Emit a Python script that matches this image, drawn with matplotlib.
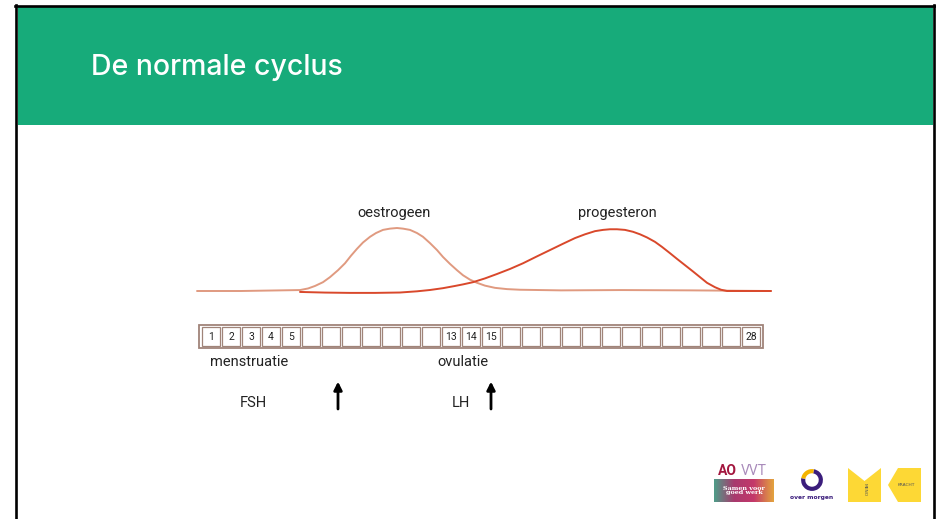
"""Dia 'De normale cyclus': hormooncurves boven een cyclusbalk van 28 dagen."""

import matplotlib

matplotlib.use("Agg")
import matplotlib.pyplot as plt  # noqa: E402
import numpy as np  # noqa: E402
from matplotlib.patches import Polygon, Rectangle, Wedge  # noqa: E402
from matplotlib.lines import Line2D  # noqa: E402

# --- data (dag op x, relatief niveau op y) ---
oestrogeen_dag = [-0.2, 2.0, 4.95, 5.35, 5.7, 6.1, 6.45, 6.85, 7.2, 7.5, 7.8, 8.1, 8.45,
                  8.75, 9.1, 9.45, 9.8, 10.1, 10.45, 10.8, 11.1, 11.45, 11.8, 12.1,
                  12.45, 12.8, 13.1, 13.45, 13.8, 14.2, 14.7, 15.3, 15.95, 18.0, 21.0,
                  24.5, 28.5]
oestrogeen_niv = [0, 0, 1.5, 4, 8, 14, 22, 33, 44, 56, 67, 77, 86,
                  92, 97, 99, 100, 99, 97, 92, 86, 76, 65, 54,
                  43, 33, 25, 18, 13, 8.5, 5, 3, 2, 1, 1.5,
                  1, 0]
progesteron_dag = [4.95, 6.2, 7.45, 8.7, 9.95, 10.8, 11.45, 12.1, 12.7, 13.1, 13.6, 14.2,
                   14.8, 15.45, 16.1, 16.8, 17.45, 18.1, 18.7, 19.2, 19.7, 20.1, 20.45,
                   20.8, 21.2, 21.6, 21.95, 22.3, 22.7, 23.05, 23.45, 23.8, 24.2, 24.6,
                   24.95, 25.3, 25.7, 26.0, 26.3, 27.2, 28.5]
progesteron_niv = [-1.5, -2.5, -3, -3, -2.4, -0.5, 1.6, 4.5, 8, 10.5, 14, 20,
                   27, 35, 44, 55, 65, 75, 84, 90, 95, 97, 98,
                   98, 97, 94, 90, 85, 78, 70, 60, 51, 41, 31,
                   22, 13, 6, 2, 0, 0, 0]
n_dagen = 28
cel_labels = {1: "1", 2: "2", 3: "3", 4: "4", 5: "5", 13: "13", 14: "14", 15: "15", 28: "28"}
curve_labels = ["oestrogeen", "progesteron"]
curve_label_dag = [9.65, 20.8]
fases = ["menstruatie", "ovulatie"]
fase_dag = [0.45, 11.8]
hormonen = ["FSH", "LH"]
hormoon_dag = [2.6, 13.0]
pijl_dag = [6.85, 14.5]

W, H = 937, 519
GROEN = "#17ab7a"
C_OES = "#e09a80"
C_PRO = "#d9482b"
C_CEL = "#a08479"
FONT = "Roboto"
FS = 10.5


def fig_rect(fig, x, y, w, h, **kw):
    """Rechthoek in pixels (oorsprong linksboven) op figuurniveau."""
    r = Rectangle((x / W, 1 - (y + h) / H), w / W, h / H,
                  transform=fig.transFigure, **kw)
    fig.patches.append(r)
    return r


def fig_ax(fig, x0, y0, x1, y1):
    return fig.add_axes([x0 / W, 1 - y1 / H, (x1 - x0) / W, (y1 - y0) / H])


def fx(x):
    return x / W


def fy(y):
    return 1 - y / H


fig = plt.figure(figsize=(W / 100, H / 100), dpi=100)
fig.patch.set_facecolor("white")

# kopbalk en zwarte rand
fig_rect(fig, 18, 7, 915, 118, facecolor=GROEN, edgecolor="none")
for xs, ys in [([16.5, 16.5], [5, 519]), ([15, 935], [6, 6]), ([934, 934], [5, 519])]:
    fig.lines.append(Line2D([fx(v) for v in xs], [fy(v) for v in ys],
                            transform=fig.transFigure, color="black", lw=1.9))
fig.text(fx(91), fy(67), "De normale cyclus", color="white", fontsize=20.5,
         family="Inter", weight="medium", va="center", ha="left")

# --- hormooncurves ---
ax = fig_ax(fig, 181, 205.95, 781, 297.3)
ax.set_xlim(-1, 29)
ax.set_ylim(-10, 135)
ax.axis("off")
ax.plot(oestrogeen_dag, oestrogeen_niv, color=C_OES, lw=1.4, solid_capstyle="round",
        solid_joinstyle="round")
ax.plot(progesteron_dag, progesteron_niv, color=C_PRO, lw=1.4, solid_capstyle="round",
        solid_joinstyle="round")
for lab, d in zip(curve_labels, curve_label_dag):
    ax.text(d, 124, lab, ha="center", va="center", fontsize=FS, family=FONT,
            color="#222222")

# --- cyclusbalk en labels ---
bx = fig_ax(fig, 181, 316, 781, 416)
bx.set_xlim(-1, 29)
bx.set_ylim(5, 0)
bx.axis("off")
bx.add_patch(Rectangle((-0.08, 0.45), n_dagen + 0.16, 1.15, facecolor="white",
                       edgecolor=C_CEL, lw=1.3))
for i in range(n_dagen):
    bx.add_patch(Rectangle((i + 0.05, 0.55), 0.9, 0.95, facecolor="white",
                           edgecolor=C_CEL, lw=0.9))
    lab = cel_labels.get(i + 1)
    if lab:
        bx.text(i + 0.5, 1.03, lab, ha="center", va="center", fontsize=7.5,
                family=FONT, color="#222222")

for lab, d in zip(fases, fase_dag):
    bx.text(d, 2.3, lab, ha="left", va="center", fontsize=FS, family=FONT,
            color="#222222")
for lab, d in zip(hormonen, hormoon_dag):
    bx.text(d, 4.35, lab, ha="center", va="center", fontsize=FS, family=FONT,
            color="#222222")
for d in pijl_dag:
    bx.annotate("", xy=(d, 3.28), xytext=(d, 4.65),
                arrowprops=dict(arrowstyle="-|>", lw=2.0, color="black",
                                mutation_scale=12, shrinkA=0, shrinkB=0))

# --- logo's rechtsonder ---
gx = fig_ax(fig, 714, 479, 774, 502)
grad = np.linspace(0, 1, 100)[None, :]
cmap = matplotlib.colors.LinearSegmentedColormap.from_list(
    "ao", ["#4f9c88", "#a83a6e", "#c4386a", "#e3a33e"])
gx.imshow(grad, aspect="auto", cmap=cmap, extent=(0, 1, 0, 1))
gx.axis("off")
gx.text(0.5, 0.5, "Samen voor\ngoed werk", ha="center", va="center", color="white",
        fontsize=4.6, family="DejaVu Serif", weight="bold", linespacing=0.9)
fig.text(fx(718), fy(471), "AO", color="#a3173f", fontsize=10, weight="bold",
         family="Roboto", va="center")
fig.text(fx(741), fy(471), "VVT", color="#a98bbb", fontsize=10, family="Roboto",
         va="center")

ox = fig_ax(fig, 798, 466, 826, 494)
ox.set_xlim(-1, 1)
ox.set_ylim(-1, 1)
ox.set_aspect("equal")
ox.axis("off")
ox.add_patch(Wedge((0, 0), 0.78, 170, 440, width=0.3, facecolor="#3b1d7c"))
ox.add_patch(Wedge((0, 0), 0.78, 80, 170, width=0.3, facecolor="#f4b400"))
fig.text(fx(812), fy(497), "over morgen", color="#3b1d7c", fontsize=4.3,
         weight="bold", ha="center", va="center")

fig.patches.append(Polygon([(fx(848), fy(468)), (fx(864.5), fy(481)), (fx(881), fy(468)),
                            (fx(881), fy(502)), (fx(848), fy(502))],
                           closed=True, transform=fig.transFigure,
                           facecolor="#fdd835", edgecolor="none"))
fig.text(fx(864.5), fy(490), "MENO", rotation=-90, fontsize=3.2, color="#555555",
         ha="center", va="center")
fig.patches.append(Polygon([(fx(898), fy(468)), (fx(921), fy(468)), (fx(921), fy(502)),
                            (fx(898), fy(502)), (fx(888), fy(485))],
                           closed=True, transform=fig.transFigure,
                           facecolor="#fdd835", edgecolor="none"))
fig.text(fx(906), fy(485), "KRACHT", fontsize=3.2, color="#555555",
         ha="center", va="center")

fig.savefig("out.png", dpi=100, facecolor="white")
